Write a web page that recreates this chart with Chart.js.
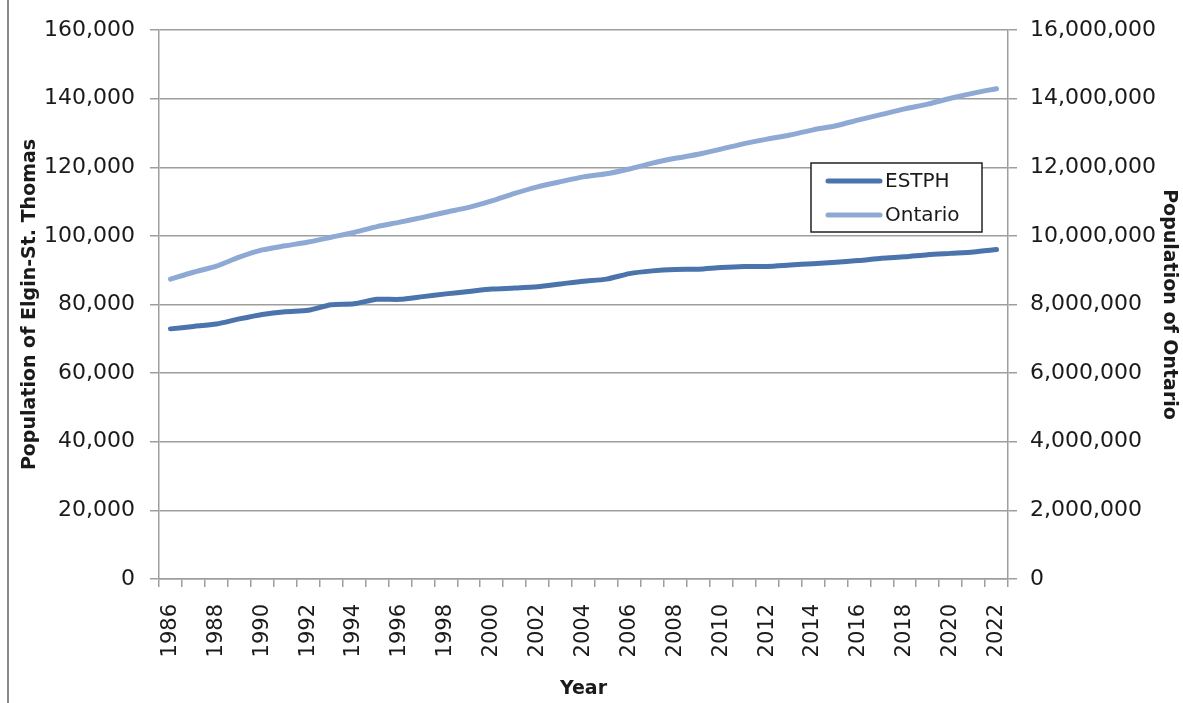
<!DOCTYPE html>
<html>
<head>
<meta charset="utf-8">
<title>Population of Elgin-St. Thomas and Ontario</title>
<script src="https://cdn.jsdelivr.net/npm/chart.js@4.4.1/dist/chart.umd.min.js"></script>
<style>
  html, body { margin: 0; padding: 0; background: #fff; }
  #wrap { position: relative; width: 1183px; height: 703px; }
  /* left frame edge of the chart panel */
  #wrap::before { content: ''; position: absolute; left: 7px; top: 0; bottom: 0; border-left: 2px solid #8a8a8a; }
</style>
</head>
<body>
<div id="wrap"><canvas id="popChart" width="1183" height="703"></canvas></div>
<script>
  'use strict';

  // Census years on the x axis.
  const years = [
    '1986', '1987', '1988', '1989', '1990', '1991', '1992', '1993', '1994', '1995',
    '1996', '1997', '1998', '1999', '2000', '2001', '2002', '2003', '2004', '2005',
    '2006', '2007', '2008', '2009', '2010', '2011', '2012', '2013', '2014', '2015',
    '2016', '2017', '2018', '2019', '2020', '2021', '2022'
  ];

  // Elgin-St. Thomas (ESTPH) population, left axis.
  const estphPopulation = [
    72900, 73600, 74300, 75800, 77100, 77900, 78300, 79900, 80200, 81500,
    81500, 82300, 83100, 83800, 84500, 84800, 85200, 86000, 86800, 87400,
    89000, 89800, 90200, 90300, 90800, 91100, 91100, 91500, 91900, 92300,
    92800, 93500, 93900, 94500, 94900, 95300, 96000
  ];

  // Ontario population, right axis.
  const ontarioPopulation = [
    8740000, 8940000, 9120000, 9380000, 9590000, 9710000, 9820000, 9960000, 10100000, 10270000,
    10400000, 10540000, 10690000, 10830000, 11020000, 11240000, 11430000, 11580000, 11720000, 11810000,
    11950000, 12120000, 12260000, 12380000, 12530000, 12690000, 12820000, 12940000, 13090000, 13210000,
    13380000, 13540000, 13700000, 13840000, 14010000, 14160000, 14290000
  ];

  // Axis tick values.
  const leftTicks = [0, 20000, 40000, 60000, 80000, 100000, 120000, 140000, 160000];
  const rightTicks = [0, 2000000, 4000000, 6000000, 8000000, 10000000, 12000000, 14000000, 16000000];

  const FONT = '"DejaVu Sans", Verdana, sans-serif';
  const TEXT = '#1a1a1a';
  const GRID = '#9e9e9e';

  const fmt = v => Number(v).toLocaleString('en-US');

  // Boxed legend sitting inside the plot, drawn from the dataset labels/colours.
  const boxLegend = {
    id: 'boxLegend',
    afterDraw(chart) {
      const ctx = chart.ctx;
      const x = 811, y = 163, w = 171, h = 69;
      ctx.save();
      ctx.fillStyle = '#fff';
      ctx.fillRect(x, y, w, h);
      ctx.strokeStyle = '#222';
      ctx.lineWidth = 1.5;
      ctx.strokeRect(x, y, w, h);
      chart.data.datasets.forEach((ds, i) => {
        const cy = y + 18 + i * 34;
        ctx.strokeStyle = ds.borderColor;
        ctx.lineWidth = 5;
        ctx.lineCap = 'round';
        ctx.beginPath();
        ctx.moveTo(x + 17, cy);
        ctx.lineTo(x + 69, cy);
        ctx.stroke();
        ctx.fillStyle = TEXT;
        ctx.font = '20px ' + FONT;
        ctx.textBaseline = 'middle';
        ctx.fillText(ds.label, x + 74, cy + 1);
      });
      ctx.restore();
    }
  };

  const ctx = document.getElementById('popChart').getContext('2d');

  new Chart(ctx, {
    type: 'line',
    data: {
      labels: years,
      datasets: [
        {
          label: 'ESTPH',
          data: estphPopulation,
          yAxisID: 'y',
          borderColor: '#4a74ab',
          borderWidth: 5,
          borderCapStyle: 'round',
          pointRadius: 0,
          tension: 0.25,
          fill: false,
        },
        {
          label: 'Ontario',
          data: ontarioPopulation,
          yAxisID: 'y1',
          borderColor: '#8da9d4',
          borderWidth: 5,
          borderCapStyle: 'round',
          pointRadius: 0,
          tension: 0.25,
          fill: false,
        },
      ],
    },
    options: {
      responsive: false,
      animation: false,
      devicePixelRatio: 1,
      layout: { padding: { top: 30, left: 0, right: 0, bottom: 0 } },
      plugins: {
        legend: { display: false },
        tooltip: { enabled: false },
      },
      scales: {
        x: {
          type: 'category',
          offset: true,
          grid: {
            offset: true,
            drawOnChartArea: false,
            color: GRID,
            lineWidth: 1.5,
            tickLength: 8,
          },
          border: { color: GRID, width: 1.5 },
          ticks: {
            autoSkip: false,
            minRotation: 90,
            maxRotation: 90,
            padding: 17,
            color: TEXT,
            font: { family: FONT, size: 21 },
            callback: (val, idx) => (idx % 2 === 0 ? years[idx] : ''),
          },
          title: {
            display: true,
            text: 'Year',
            color: TEXT,
            font: { family: FONT, size: 19, weight: 'bold' },
            padding: { top: 0, bottom: 3 },
          },
          afterFit: scale => { scale.height = 124; },
        },
        y: {
          position: 'left',
          min: 0,
          max: 160000,
          afterBuildTicks: scale => { scale.ticks = leftTicks.map(v => ({ value: v })); },
          grid: { color: GRID, lineWidth: 1.5, tickLength: 9 },
          border: { color: GRID, width: 1.5 },
          ticks: {
            padding: 15,
            color: TEXT,
            font: { family: FONT, size: 22 },
            callback: v => fmt(v),
          },
          title: {
            display: true,
            text: 'Population of Elgin-St. Thomas',
            color: TEXT,
            font: { family: FONT, size: 19, weight: 'bold' },
            padding: { top: 19, bottom: 0 },
          },
          afterFit: scale => { scale.width = 159; },
        },
        y1: {
          position: 'right',
          min: 0,
          max: 16000000,
          afterBuildTicks: scale => { scale.ticks = rightTicks.map(v => ({ value: v })); },
          grid: { drawOnChartArea: false, color: GRID, lineWidth: 1.5, tickLength: 9 },
          border: { color: GRID, width: 1.5 },
          ticks: {
            padding: 13,
            color: TEXT,
            font: { family: FONT, size: 22 },
            callback: v => fmt(v),
          },
          title: {
            display: true,
            text: 'Population of Ontario',
            color: TEXT,
            font: { family: FONT, size: 19, weight: 'bold' },
            padding: { top: 3, bottom: 0 },
          },
          afterFit: scale => { scale.width = 175; },
        },
      },
    },
    plugins: [boxLegend],
  });
</script>
</body>
</html>
